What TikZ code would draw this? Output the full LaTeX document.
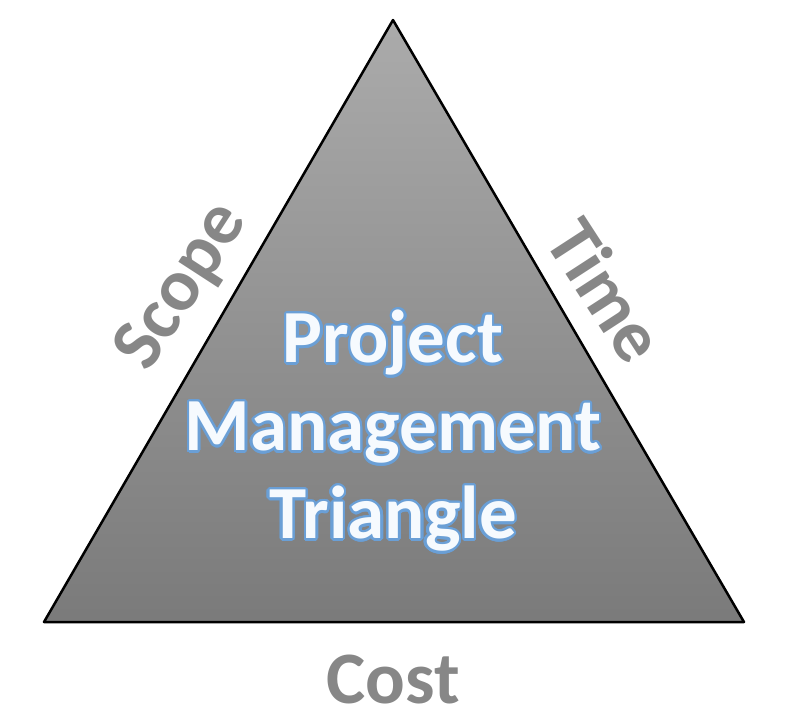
\documentclass[tikz,border=0pt]{standalone}
\usepackage{fontspec}
\setmainfont{Carlito}
\usepackage[copies]{contour}
\contourlength{2.4pt}
\contournumber{24}
\definecolor{edgegray}{HTML}{878787}
\definecolor{titlefill}{HTML}{F6FAFE}
\definecolor{titleline}{HTML}{6A9FD6}
\begin{document}
\begin{tikzpicture}[x=1pt,y=-1pt,
    side/.style={font=\bfseries\fontsize{74}{80}\selectfont, text=edgegray, inner sep=0pt},
    title/.style={font=\bfseries\fontsize{75}{88}\selectfont, align=center, inner sep=0pt}]
  \useasboundingbox (0,0) rectangle (790,720);
  \coordinate (top) at (393,20);
  \coordinate (left) at (44,622);
  \coordinate (right) at (744,622);

  \draw [line width=2.5pt, line join=round, top color=black!33, bottom color=black!52] (top) -- (right) -- (left) -- cycle;

  \node [title] (pmt) at (393,432) {\contour{titleline}{\textcolor{titlefill}{Project}}\\
    \contour{titleline}{\textcolor{titlefill}{Management}}\\
    \contour{titleline}{\textcolor{titlefill}{Triangle}}};

  \node [side, rotate=57] (scope) at (183,287) {Scope};
  \node [side, rotate=-57] (time) at (607,290) {Time};
  \node [side] (cost) at (393,680) {Cost};
\end{tikzpicture}
\end{document}
